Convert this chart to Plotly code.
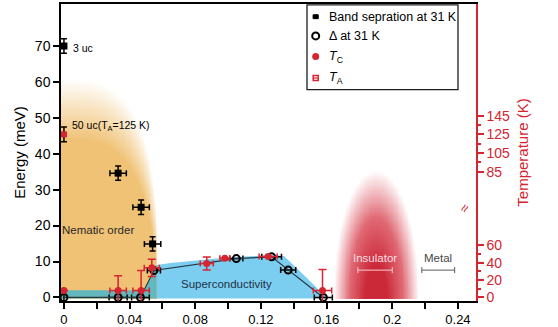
import numpy as np
import plotly.graph_objects as go

# ---------------- data ----------------
# band separation measured at 31 K (meV)
band_x = [0.0, 0.033, 0.047, 0.054]
band_e = [70.0, 34.6, 25.1, 14.9]
band_xerr = [0.0, 0.005, 0.005, 0.005]
band_eerr = [2.0, 2.0, 2.0, 2.0]

# superconducting gap at 31 K (meV)
gap_x = [0.0, 0.033, 0.0466, 0.0548, 0.105, 0.1265, 0.1366, 0.158]
gap_e = [0.0, 0.0, 0.0, 7.5, 10.8, 11.3, 7.6, 0.0]
gap_xerr = [0.0, 0.0055, 0.0054, 0.004, 0.004, 0.006, 0.0046, 0.0055]

# critical temperature T_C (K)
tc_x = [0.0, 0.033, 0.047, 0.0535, 0.087, 0.098, 0.1244, 0.1575]
tc_k = [8, 8, 8, 34, 39, 45, 47, 8]
tc_kerr = [0, 17, 23, 10, 7.6, 0, 0, 24]
tc_xerr = [0.0, 0.005, 0.005, 0.0046, 0.004, 0.003, 0.0055, 0.0056]

# T_A of the 50 uc film (K)
ta_x = [0.0]
ta_k = [125]
ta_kerr = [8]

# superconducting dome outline (meV)
dome_x = [0.0565, 0.0565, 0.065, 0.08, 0.095, 0.11, 0.127, 0.134, 0.1447, 0.156, 0.1605]
dome_e = [-0.3, 9.0, 9.6, 10.3, 10.9, 11.4, 11.8, 11.5, 6.9, 1.75, -0.3]
overlap_x = [-0.002, -0.002, 0.049, 0.0565, 0.0565]
overlap_e = [-0.3, 2.0, 2.0, 9.0, -0.3]

# tick labels
x_ticks = [0, 0.04, 0.08, 0.12, 0.16, 0.2, 0.24]
x_ticktext = ["0", "0.04", "0.08", "0.12", "0.16", "0.2", "0.24"]
e_ticks = [0, 10, 20, 30, 40, 50, 60, 70]
t_ticks = [0, 20, 40, 60, 85, 105, 125, 145]
t_minor = [10, 30, 50, 95, 115, 135]

# ---------------- temperature axis (broken) ----------------
def t_to_e(t):
    """Place a temperature on the energy scale; the axis is broken above 60 K."""
    t = np.asarray(t, dtype=float)
    return np.where(t <= 70, t * 0.242, 35.0 + (t - 85) * 0.26)

def t_err(t, err):
    up = t_to_e(np.asarray(t) + np.asarray(err)) - t_to_e(t)
    lo = t_to_e(t) - t_to_e(np.asarray(t) - np.asarray(err))
    return up.tolist(), lo.tolist()

FONT = "Liberation Sans, Arial, sans-serif"
RED = "rgb(214,36,48)"
ORANGE = (240, 194, 118)
BLUE = "rgb(124,206,240)"
TEAL = "rgb(98,184,188)"

fig = go.Figure()

# nematic order: orange area fading towards its upper edge
gx = np.linspace(-0.002, 0.0575, 140)
gy = np.linspace(-0.3, 62, 160)
X, Y = np.meshgrid(gx, gy)
ratio = np.clip(X / 0.0572, 0, 1)
e_top = 61.0 * np.clip(1 - ratio ** 3, 0, 1) ** (1 / 3)
alpha = np.clip((e_top - Y) / 17.0, 0, 1)
alpha[X > 0.0566] = 0
fig.add_trace(go.Heatmap(
    x=gx, y=gy, z=alpha, zmin=0, zmax=1, zsmooth="best", showscale=False,
    hoverinfo="skip",
    colorscale=[[0, "rgba(%d,%d,%d,0)" % ORANGE], [1, "rgba(%d,%d,%d,1)" % ORANGE]],
))

# insulating region: soft red glow
rx = np.linspace(0.16, 0.22, 120)
ry = np.linspace(-0.3, 37, 120)
RX, RY = np.meshgrid(rx, ry)
rr = np.sqrt(((RX - 0.19) / 0.026) ** 2 + (RY / 35.5) ** 2)
ralpha = np.clip((1 - rr) / 0.75, 0, 1)
fig.add_trace(go.Heatmap(
    x=rx, y=ry, z=ralpha, zmin=0, zmax=1, zsmooth="best", showscale=False,
    hoverinfo="skip",
    colorscale=[[0, "rgba(215,50,65,0)"], [0.5, "rgba(210,40,56,0.7)"],
                [1, "rgba(200,28,45,0.95)"]],
))

# superconducting dome
fig.add_trace(go.Scatter(x=dome_x, y=dome_e, fill="toself", fillcolor=BLUE,
                         mode="lines", line=dict(width=0), hoverinfo="skip"))
fig.add_trace(go.Scatter(x=overlap_x, y=overlap_e, fill="toself", fillcolor=TEAL,
                         mode="lines", line=dict(width=0), hoverinfo="skip"))

# gap values joined by a line
fig.add_trace(go.Scatter(
    x=gap_x, y=gap_e, mode="lines+markers",
    line=dict(color="rgb(40,55,65)", width=1.2),
    marker=dict(symbol="circle-open", size=7, color="black", line=dict(width=2)),
    error_x=dict(type="data", array=gap_xerr, color="black", thickness=1.5, width=3),
))

# band separation
fig.add_trace(go.Scatter(
    x=band_x, y=band_e, mode="markers",
    marker=dict(symbol="square", size=7, color="black"),
    error_x=dict(type="data", array=band_xerr, color="black", thickness=1.5, width=3),
    error_y=dict(type="data", array=band_eerr, color="black", thickness=1.5, width=3),
))

# T_C
up, lo = t_err(tc_k, tc_kerr)
fig.add_trace(go.Scatter(
    x=tc_x, y=t_to_e(tc_k).tolist(), yaxis="y2", mode="markers",
    marker=dict(symbol="circle", size=7, color=RED),
    error_x=dict(type="data", array=tc_xerr, color=RED, thickness=1.5, width=3),
    error_y=dict(type="data", array=up, arrayminus=lo, color=RED, thickness=1.5, width=4),
))

# T_A
up, lo = t_err(ta_k, ta_kerr)
fig.add_trace(go.Scatter(
    x=ta_x, y=t_to_e(ta_k).tolist(), yaxis="y2", mode="markers",
    marker=dict(symbol="square", size=6, color=RED),
    error_y=dict(type="data", array=up, arrayminus=lo, color="black", thickness=1.5, width=3),
))

# phase labels with their bars
fig.add_trace(go.Scatter(
    x=[0.1895], y=[7.6], mode="markers", marker=dict(size=1, color="rgba(0,0,0,0)"),
    error_x=dict(type="constant", value=0.0105, color="rgb(245,205,210)", thickness=1, width=3),
    hoverinfo="skip"))
fig.add_trace(go.Scatter(
    x=[0.228], y=[7.6], mode="markers", marker=dict(size=1, color="rgba(0,0,0,0)"),
    error_x=dict(type="constant", value=0.010, color="rgb(90,90,90)", thickness=1, width=3),
    hoverinfo="skip"))

# ---------------- key ----------------
key_y = [0.9574, 0.8926, 0.8232, 0.7507]
key_mx = 0.6137
key_tx = 0.641
fig.add_trace(go.Scatter(
    x=[key_mx], y=[key_y[0]], xaxis="x3", yaxis="y3", mode="markers", cliponaxis=False,
    marker=dict(symbol="square", size=5, color="black"),
    error_x=dict(type="constant", value=0.006, color="black", thickness=1.2, width=2)))
fig.add_trace(go.Scatter(
    x=[key_mx], y=[key_y[1]], xaxis="x3", yaxis="y3", mode="markers", cliponaxis=False,
    marker=dict(symbol="circle-open", size=7, color="black", line=dict(width=2))))
fig.add_trace(go.Scatter(
    x=[key_mx], y=[key_y[2]], xaxis="x3", yaxis="y3", mode="markers", cliponaxis=False,
    marker=dict(symbol="circle", size=7, color=RED)))
fig.add_trace(go.Scatter(
    x=[key_mx], y=[key_y[3]], xaxis="x3", yaxis="y3", mode="markers", cliponaxis=False,
    marker=dict(symbol="square-open", size=5, color=RED, line=dict(width=1.5)),
    error_x=dict(type="constant", value=0.005, color=RED, thickness=1.2, width=0)))

key_text = ["Band sepration at 31 K", "Δ at 31 K",
            "<i>T</i><sub>C</sub>", "<i>T</i><sub>A</sub>"]
annotations = []
for txt, yy in zip(key_text, key_y):
    annotations.append(dict(xref="paper", yref="paper", x=key_tx, y=yy, text=txt,
                            showarrow=False, xanchor="left", yanchor="middle",
                            font=dict(family=FONT, size=12.5, color="black")))

shapes = [dict(type="rect", xref="paper", yref="paper", x0=0.5928, x1=0.9566,
               y0=0.7114, y1=0.997, line=dict(color="rgb(30,30,30)", width=1.3),
               fillcolor="rgba(0,0,0,0)", layer="above")]

# ---------------- text labels ----------------
def label(x, y, text, size=11, color="black", anchor="center"):
    annotations.append(dict(xref="x", yref="y", x=x, y=y, text=text, showarrow=False,
                            xanchor=anchor, yanchor="middle",
                            font=dict(family=FONT, size=size, color=color)))

label(0.0045, 69.5, "3 uc", size=10.5, anchor="left")
label(0.0037, 47.6, "50 uc(T<sub>A</sub>=125 K)", size=10.5, anchor="left")
label(0.021, 18.9, "Nematic order", size=11.5, color="rgb(40,40,40)")
label(0.099, 3.8, "Superconductivity", size=11.5, color="rgb(30,50,70)")
label(0.1895, 10.9, "Insulator", size=11.5, color="rgb(252,222,226)")
label(0.228, 10.9, "Metal", size=11.5, color="rgb(70,70,70)")

# axis break mark
annotations.append(dict(xref="paper", yref="y", x=1.0, y=25, text="≈", showarrow=False,
                        textangle=-60, font=dict(family=FONT, size=14, color=RED)))

e_range = [-1.0, 81.7]
fig.update_layout(
    template="none",
    width=558, height=327,
    margin=dict(l=61, r=82, t=4, b=26),
    plot_bgcolor="white", paper_bgcolor="white",
    showlegend=False,
    font=dict(family=FONT, color="black"),
    xaxis=dict(range=[-0.0018, 0.251], tickvals=x_ticks, ticktext=x_ticktext,
               automargin=False,
               ticks="outside", ticklen=6, tickwidth=1.5, tickcolor="black",
               minor=dict(dtick=0.02, tick0=0, ticks="outside", ticklen=6, tickwidth=1.5,
                          tickcolor="black", showgrid=False),
               showline=True, linecolor="black", linewidth=1.5, mirror=True,
               showgrid=False, zeroline=False, tickfont=dict(size=13)),
    yaxis=dict(range=e_range, tickvals=e_ticks, ticks="outside", ticklen=6,
               automargin=False,
               tickwidth=1.5, tickcolor="black", showline=True, linecolor="black",
               linewidth=1.5, showgrid=False, zeroline=False, tickfont=dict(size=14),
               title=dict(text="Energy (meV)", font=dict(size=15), standoff=6)),
    yaxis2=dict(range=e_range, overlaying="y", side="right", automargin=False,
                tickvals=t_to_e(t_ticks).tolist(), ticktext=[str(t) for t in t_ticks],
                ticks="outside", ticklen=6, tickwidth=1.5, tickcolor=RED,
                minor=dict(tickmode="array", tickvals=t_to_e(t_minor).tolist(),
                           ticks="outside", ticklen=3.5, tickwidth=1.5, tickcolor=RED,
                           showgrid=False),
                showline=True, linecolor=RED, linewidth=1.5, showgrid=False,
                zeroline=False, tickfont=dict(size=14, color=RED),
                title=dict(text="Temperature (K)", font=dict(size=15, color=RED), standoff=8)),
    xaxis3=dict(range=[0, 1], overlaying="x", anchor="y3", visible=False),
    yaxis3=dict(range=[0, 1], overlaying="y", anchor="x3", visible=False),
    annotations=annotations,
    shapes=shapes,
)

fig.write_html("out.html")
